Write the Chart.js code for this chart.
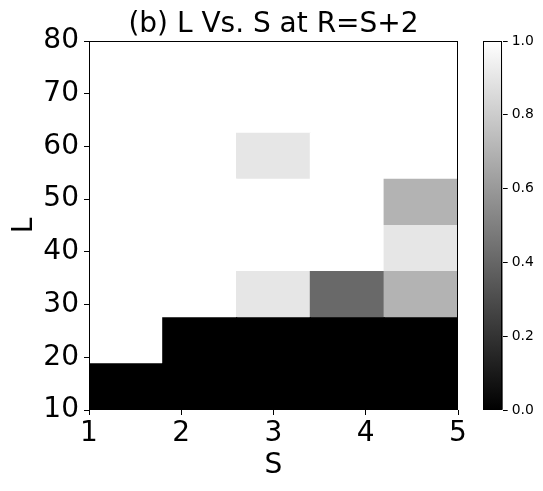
<!DOCTYPE html>
<html lang="en">
<head>
<meta charset="UTF-8">
<title>(b) L Vs. S at R=S+2</title>
<script src="https://cdn.jsdelivr.net/npm/chart.js"></script>
<style>
  body { margin: 0; background: #fff; }
  #wrap { position: relative; width: 543px; height: 491px; }
  canvas { position: absolute; top: 0; }
</style>
</head>
<body>
<div id="wrap">
  <canvas id="heatmap" width="543" height="491" style="left:0"></canvas>
  <canvas id="colorbar" width="73" height="491" style="left:470px"></canvas>
</div>
<script>
// image extent and ticks
const sRange = [1, 5];
const lRange = [10, 80];
const sTicks = [1, 2, 3, 4, 5];
const lTicks = [10, 20, 30, 40, 50, 60, 70, 80];
const cbTicks = [0, 0.2, 0.4, 0.6, 0.8, 1.0];

// grid values, rows from L=10 upwards, columns S=1..5
const cells = [
  [0, 0, 0, 0, 0],
  [1, 0, 0, 0, 0],
  [1, 1, 0.9, 0.41, 0.7],
  [1, 1, 1, 1, 0.9],
  [1, 1, 1, 1, 0.7],
  [1, 1, 0.9, 1, 1],
  [1, 1, 1, 1, 1],
  [1, 1, 1, 1, 1]
];

Chart.defaults.font.family = "'DejaVu Sans', sans-serif";
Chart.defaults.color = '#000';

function gray(v) {
  const c = Math.round(v * 255);
  return `rgb(${c},${c},${c})`;
}

// black box round the plot area (matplotlib spines)
const frame = {
  id: 'frame',
  afterDatasetsDraw(chart) {
    const {ctx, chartArea: a} = chart;
    ctx.save();
    ctx.strokeStyle = '#000';
    ctx.lineWidth = 1;
    ctx.strokeRect(Math.round(a.left) + 0.5, Math.round(a.top) + 0.5,
                   Math.round(a.width) - 1, Math.round(a.height) - 1);
    ctx.restore();
  }
};

const nCols = cells[0].length;
const nRows = cells.length;
const dS = (sRange[1] - sRange[0]) / nCols;
const dL = (lRange[1] - lRange[0]) / nRows;

const datasets = cells.map((row, r) => ({
  data: row.map((v, c) => ({
    x: sRange[0] + dS * (c + 0.5),
    y: [lRange[0] + dL * r, lRange[0] + dL * (r + 1)]
  })),
  backgroundColor: row.map(gray),
  borderWidth: 0,
  inflateAmount: 0.6,
  grouped: false,
  barPercentage: 1,
  categoryPercentage: 1
}));

const tickFont = {size: 28};

new Chart(document.getElementById('heatmap'), {
  type: 'bar',
  data: {datasets: datasets},
  plugins: [frame],
  options: {
    responsive: false,
    animation: false,
    events: [],
    layout: {padding: {left: 0, right: 85, top: 0, bottom: 0}},
    plugins: {
      legend: {display: false},
      tooltip: {enabled: false},
      title: {
        display: true,
        fullSize: false,
        text: '(b) L Vs. S at R=S+2',
        color: '#000',
        font: {size: 28, weight: 'normal', lineHeight: 1.18},
        padding: {top: 8, bottom: 0}
      }
    },
    scales: {
      x: {
        type: 'linear',
        min: sRange[0],
        max: sRange[1],
        offset: false,
        afterBuildTicks: s => { s.ticks = sTicks.map(v => ({value: v})); },
        afterFit: s => { s.height = 81; },
        ticks: {font: tickFont, color: '#000', padding: 1.6, maxRotation: 0},
        grid: {display: true, drawOnChartArea: false, drawTicks: true, tickLength: 5, color: '#000', offset: false},
        border: {display: false},
        title: {display: true, text: 'S', color: '#000', font: {size: 28}, padding: {top: 0, bottom: 8.5}}
      },
      y: {
        type: 'linear',
        min: lRange[0],
        max: lRange[1],
        afterBuildTicks: s => { s.ticks = lTicks.map(v => ({value: v})); },
        afterFit: s => { s.width = 89; },
        ticks: {font: tickFont, color: '#000', padding: 5},
        grid: {display: true, drawOnChartArea: false, drawTicks: true, tickLength: 5, color: '#000'},
        border: {display: false},
        title: {display: true, text: 'L', color: '#000', font: {size: 28}, padding: {top: 8.4, bottom: 0}}
      }
    }
  }
});

new Chart(document.getElementById('colorbar'), {
  type: 'bar',
  data: {
    labels: ['value'],
    datasets: [{
      data: [[cbTicks[0], cbTicks[cbTicks.length - 1]]],
      backgroundColor: ctx => {
        const a = ctx.chart.chartArea;
        if (!a) return '#888';
        const g = ctx.chart.ctx.createLinearGradient(0, a.bottom, 0, a.top);
        g.addColorStop(0, gray(0));
        g.addColorStop(1, gray(1));
        return g;
      },
      borderWidth: 0,
      barPercentage: 1,
      categoryPercentage: 1
    }]
  },
  plugins: [frame],
  options: {
    responsive: false,
    animation: false,
    events: [],
    layout: {padding: {left: 13.3, right: 0, top: 41, bottom: 81}},
    plugins: {legend: {display: false}, tooltip: {enabled: false}},
    scales: {
      x: {display: false},
      y: {
        position: 'right',
        min: cbTicks[0],
        max: cbTicks[cbTicks.length - 1],
        afterBuildTicks: s => { s.ticks = cbTicks.map(v => ({value: v})); },
        afterFit: s => { s.width = 40.3; },
        ticks: {font: {size: 13.9}, color: '#000', padding: 4, callback: v => v.toFixed(1)},
        grid: {display: true, drawOnChartArea: false, drawTicks: true, tickLength: 5, color: '#000'},
        border: {display: false}
      }
    }
  }
});
</script>
</body>
</html>
